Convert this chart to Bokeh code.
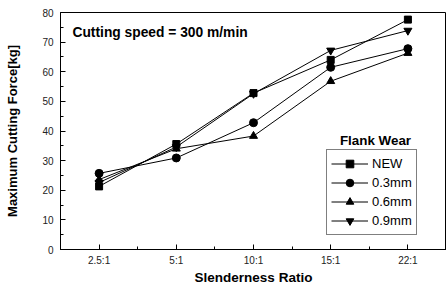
from bokeh.plotting import figure
from bokeh.models import FixedTicker, Legend, LegendItem, Label, Range1d
from bokeh.embed import file_html
from bokeh.resources import INLINE

categories = ["2.5:1", "5:1", "10:1", "15:1", "22:1"]
series_names = ["NEW", "0.3mm", "0.6mm", "0.9mm"]
new_vals = [21.3, 35.6, 52.8, 64.0, 77.6]
mm03_vals = [25.7, 30.9, 42.8, 61.5, 67.8]
mm06_vals = [23.6, 34.0, 38.3, 56.8, 66.3]
mm09_vals = [22.6, 34.6, 52.6, 67.2, 73.9]
y_ticks = [0, 10, 20, 30, 40, 50, 60, 70, 80]
markers = ["square", "circle", "triangle", "inverted_triangle"]
marker_sizes = [7, 8, 8, 8]

xs = list(range(len(categories)))

p = figure(width=446, height=288, output_backend="svg", toolbar_location=None,
           x_range=Range1d(-0.5, len(categories) - 0.5), y_range=Range1d(0, 80),
           min_border_left=60, min_border_right=0, min_border_top=12, min_border_bottom=39)
p.background_fill_color = "white"
p.border_fill_color = "white"
p.outline_line_color = "black"
p.outline_line_width = 1
p.grid.visible = False

FONT = "Liberation Sans"

# x axis
xa = p.xaxis[0]
xa.ticker = FixedTicker(ticks=xs, minor_ticks=[i + 0.5 for i in range(-1, len(categories))])
xa.major_label_overrides = {i: c for i, c in enumerate(categories)}
xa.major_tick_in = 5
xa.major_tick_out = 0
xa.minor_tick_in = 3
xa.minor_tick_out = 0
xa.major_label_text_font = FONT
xa.major_label_text_font_size = "10px"
xa.major_label_text_color = "#222222"
xa.major_label_standoff = 5
xa.axis_label = "Slenderness Ratio"
xa.axis_label_text_font = FONT
xa.axis_label_text_font_size = "13.5px"
xa.axis_label_text_font_style = "bold"
xa.axis_label_text_color = "black"
xa.axis_label_standoff = 1

# y axis
ya = p.yaxis[0]
ya.ticker = FixedTicker(ticks=y_ticks, minor_ticks=[t + 5 for t in y_ticks[:-1]])
ya.major_tick_in = 5
ya.major_tick_out = 0
ya.minor_tick_in = 3
ya.minor_tick_out = 0
ya.major_label_text_font = FONT
ya.major_label_text_font_size = "10px"
ya.major_label_text_color = "#222222"
ya.major_label_standoff = 7
ya.axis_label = "Maximum Cutting Force[kg]"
ya.axis_label_text_font = FONT
ya.axis_label_text_font_size = "13px"
ya.axis_label_text_font_style = "bold"
ya.axis_label_text_color = "black"
ya.axis_label_standoff = 19

items = []
for name, vals, mk, ms in zip(series_names, [new_vals, mm03_vals, mm06_vals, mm09_vals], markers, marker_sizes):
    ln = p.line(xs, vals, line_color="black", line_width=1)
    sc = p.scatter(xs, vals, marker=mk, size=ms, fill_color="black", line_color="black")
    items.append(LegendItem(label=name, renderers=[ln, sc]))

legend = Legend(items=items, location=(266, 14), orientation="vertical",
                padding=4, spacing=0, margin=0,
                label_height=19, glyph_height=19, glyph_width=37, label_standoff=4,
                label_text_font=FONT, label_text_font_size="13px", label_text_color="black",
                border_line_color="black", border_line_width=1,
                background_fill_alpha=1.0)
p.add_layout(legend, "center")

p.add_layout(Label(x=-0.345, y=73.3, text="Cutting speed = 300 m/min",
                   text_font=FONT, text_font_size="13.8px", text_font_style="bold",
                   text_color="black", text_baseline="middle", text_align="left"))
p.add_layout(Label(x=3.58, y=36.9, text="Flank Wear",
                   text_font=FONT, text_font_size="13.4px", text_font_style="bold",
                   text_color="black", text_baseline="middle", text_align="center"))

open("out.html", "w").write(file_html(p, INLINE))
